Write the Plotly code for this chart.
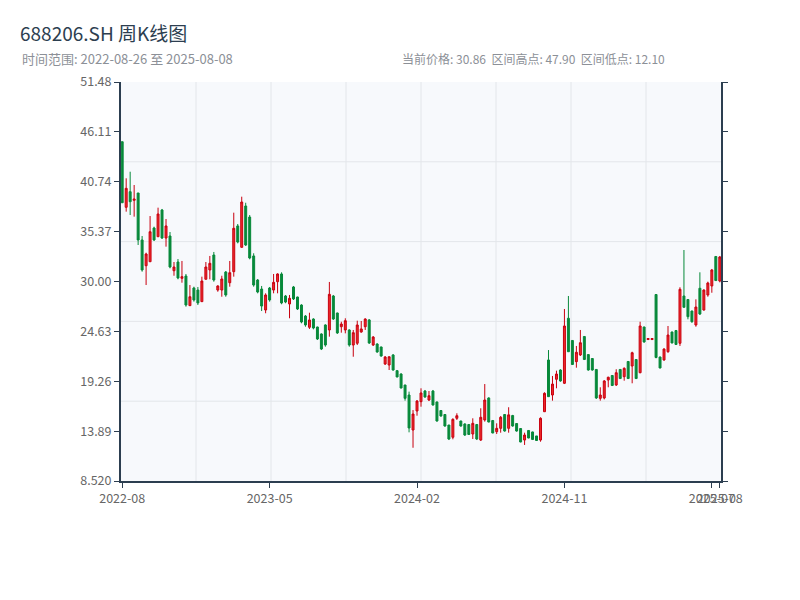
import pandas as pd
import plotly.graph_objects as go

# ---- data ----
first_week = "2022-08-26"
last_week = "2025-08-08"
closed_weeks = ["2022-10-07", "2023-01-27", "2023-10-06", "2024-02-16"]

opens = [45.05, 37.99, 39.67, 38.74, 39.53, 34.47, 31.70, 32.13, 35.76, 34.82,
         37.70, 34.68, 34.90, 31.16, 32.10, 30.34, 30.59, 27.40, 29.30, 29.08,
         27.83, 30.24, 31.24, 32.85, 29.08, 29.08, 31.02, 29.87, 31.06, 35.98,
         33.68, 38.13, 36.94, 32.75, 30.16, 29.19, 26.93, 29.30, 29.08, 29.98,
         30.81, 28.44, 27.58, 29.41, 28.33, 27.47, 26.28, 25.07, 25.96, 25.10,
         24.35, 25.32, 24.78, 28.44, 26.61, 25.13, 24.78, 24.78, 23.16, 23.35,
         24.56, 25.13, 25.86, 23.16, 23.27, 22.95, 21.12, 21.01, 22.09, 20.40,
         20.04, 18.86, 17.78, 14.01, 16.06, 17.06, 18.21, 17.24, 18.21, 17.03,
         16.11, 15.68, 14.55, 13.23, 15.27, 14.98, 14.66, 14.60, 13.58, 14.60,
         12.93, 15.09, 17.46, 15.03, 13.83, 14.19, 15.68, 14.19, 15.57, 14.71,
         14.17, 12.93, 13.96, 13.80, 13.37, 12.93, 15.98, 21.55, 17.78, 19.47,
         20.47, 19.04, 26.04, 23.65, 21.37, 22.09, 24.08, 22.13, 21.71, 20.53,
         17.42, 17.46, 19.39, 19.88, 18.86, 20.53, 19.75, 21.39, 20.90, 21.60,
         20.18, 25.10, 23.75, 23.75, 28.60, 21.87, 21.55, 22.44, 24.56, 24.72,
         23.35, 28.44, 28.06, 26.82, 25.32, 29.27, 26.93, 28.55, 29.52, 32.69,
         30.05]
highs = [45.05, 41.11, 41.82, 40.39, 39.53, 34.90, 33.10, 37.05, 35.90, 37.95,
         37.81, 36.73, 35.33, 32.10, 32.42, 32.21, 30.81, 29.62, 29.44, 29.41,
         30.52, 32.10, 32.75, 33.18, 29.59, 30.62, 31.13, 32.21, 37.41, 36.19,
         39.13, 38.48, 37.16, 33.04, 30.27, 29.52, 28.73, 29.41, 30.81, 30.88,
         30.99, 28.55, 28.55, 29.52, 28.36, 27.55, 26.39, 26.64, 26.04, 25.13,
         24.42, 25.39, 29.95, 28.55, 26.64, 25.67, 26.04, 24.85, 24.78, 25.78,
         25.75, 26.04, 25.96, 24.13, 23.35, 22.98, 21.98, 21.90, 22.19, 20.47,
         20.12, 18.86, 18.14, 16.16, 17.24, 18.50, 18.32, 18.21, 18.32, 17.06,
         16.16, 15.73, 14.55, 15.27, 15.81, 15.01, 14.73, 14.66, 15.27, 14.66,
         16.35, 18.96, 17.53, 15.09, 14.73, 15.52, 15.73, 16.46, 15.64, 14.73,
         14.19, 13.72, 14.01, 13.83, 13.37, 15.38, 18.07, 22.62, 19.83, 20.40,
         20.55, 27.04, 28.44, 23.70, 23.06, 24.78, 24.13, 22.19, 21.73, 20.55,
         18.61, 19.39, 19.75, 19.93, 20.55, 20.55, 20.76, 21.44, 22.44, 21.62,
         25.67, 25.13, 23.88, 23.88, 28.65, 21.90, 22.81, 25.21, 24.60, 24.78,
         29.38, 33.39, 28.08, 26.86, 28.08, 30.99, 29.16, 29.98, 31.35, 32.75,
         32.75]
lows = [38.48, 37.52, 37.16, 36.98, 33.93, 31.06, 29.62, 32.13, 34.36, 34.82,
        34.58, 33.75, 31.42, 30.62, 30.24, 29.87, 27.29, 27.40, 27.83, 27.47,
        27.83, 30.24, 30.24, 29.98, 28.90, 28.36, 28.36, 29.44, 30.52, 34.11,
        33.64, 33.82, 32.39, 29.44, 28.73, 26.82, 26.58, 27.83, 28.73, 28.73,
        27.55, 27.66, 26.04, 28.01, 26.93, 25.50, 25.13, 24.89, 24.85, 23.70,
        22.62, 22.98, 24.06, 25.86, 24.35, 24.49, 24.42, 22.98, 21.90, 23.16,
        24.49, 24.78, 23.27, 23.06, 22.33, 21.90, 21.01, 20.47, 20.40, 19.69,
        18.50, 17.17, 13.76, 12.10, 15.55, 16.52, 17.49, 17.13, 16.65, 14.91,
        15.44, 14.37, 12.93, 13.01, 15.09, 14.37, 13.37, 13.47, 13.04, 12.93,
        12.83, 14.91, 14.84, 13.66, 13.58, 13.72, 13.83, 13.72, 14.37, 13.83,
        12.69, 12.40, 13.12, 12.93, 12.86, 12.75, 15.98, 17.60, 17.17, 18.50,
        19.21, 18.96, 22.44, 21.01, 20.72, 21.98, 21.55, 20.40, 20.40, 17.35,
        17.17, 17.31, 18.61, 18.75, 18.75, 19.50, 19.32, 19.50, 19.04, 19.50,
        20.12, 23.41, 23.70, 23.70, 21.73, 20.65, 21.47, 22.33, 23.35, 23.16,
        23.06, 27.22, 25.93, 25.56, 25.13, 26.39, 26.86, 28.36, 28.79, 30.05,
        29.91]
closes = [38.48, 40.03, 38.59, 38.88, 34.47, 31.24, 32.96, 35.36, 34.47, 37.27,
          34.68, 35.98, 31.56, 31.56, 30.38, 30.52, 27.47, 28.36, 28.01, 27.69,
          30.05, 31.56, 31.96, 30.16, 29.52, 30.27, 28.55, 30.95, 35.73, 34.25,
          38.56, 33.93, 32.53, 29.62, 28.87, 27.36, 28.55, 28.01, 29.91, 30.81,
          27.69, 27.79, 28.19, 28.12, 27.04, 25.64, 25.32, 25.86, 24.99, 23.81,
          22.73, 23.16, 28.62, 25.96, 24.46, 25.42, 25.78, 23.16, 24.49, 25.32,
          24.89, 25.96, 23.38, 24.02, 22.41, 21.98, 21.87, 21.90, 20.47, 19.72,
          18.53, 17.42, 14.23, 15.73, 17.13, 18.00, 17.56, 17.70, 16.70, 14.98,
          15.52, 14.44, 13.04, 15.16, 15.55, 14.44, 13.47, 13.53, 14.73, 13.04,
          15.38, 17.24, 14.87, 13.69, 14.19, 15.38, 13.90, 15.64, 14.44, 13.90,
          12.72, 13.47, 13.15, 12.99, 12.88, 15.27, 17.96, 17.60, 18.96, 20.04,
          19.29, 25.21, 22.44, 21.06, 22.38, 23.41, 21.60, 20.47, 20.47, 17.46,
          17.78, 19.29, 19.69, 18.80, 20.18, 19.55, 20.65, 19.55, 22.33, 19.55,
          25.21, 23.49, 23.86, 23.86, 21.82, 20.69, 22.73, 24.24, 23.38, 23.22,
          29.16, 27.22, 26.21, 25.67, 27.25, 26.50, 29.08, 29.84, 31.24, 30.10,
          32.64]

y_tick_values = [8.52, 13.89, 19.26, 24.63, 30.00, 35.37, 40.74, 46.11, 51.48]
y_tick_labels = ["8.520", "13.89", "19.26", "24.63", "30.00", "35.37", "40.74", "46.11", "51.48"]
x_tick_positions = [0, 37, 74, 111, 148, 150]

title_text = "688206.SH 周K线图"
range_text = "时间范围: 2022-08-26 至 2025-08-08"
stats_text = "当前价格: 30.86\u00a0\u00a0区间高点: 47.90\u00a0\u00a0区间低点: 12.10"

# ---- build ----
closed = set(pd.to_datetime(closed_weeks))
weeks = [d for d in pd.date_range(first_week, last_week, freq="W-FRI") if d not in closed]
dates = [d.strftime("%Y-%m-%d") for d in weeks]
x_tick_vals = [dates[i] for i in x_tick_positions]
x_tick_text = [weeks[i].strftime("%Y-%m") for i in x_tick_positions]

FONT = "Noto Sans CJK SC"
AXIS = "#2c3e50"
GRID = "#e3e6ea"
PAGE_OFFSET = 8  # the page body margin shifts the figure by 8px

fig = go.Figure(go.Candlestick(
    x=dates, open=opens, high=highs, low=lows, close=closes,
    increasing=dict(line=dict(color="#c8000f", width=1), fillcolor="#ee2b2b"),
    decreasing=dict(line=dict(color="#07893a", width=1), fillcolor="#07893a"),
    whiskerwidth=0, hoverinfo="skip",
))

shapes = []
for i in range(1, 8):
    shapes.append(dict(type="line", xref="x domain", yref="y domain", x0=i / 8, x1=i / 8,
                       y0=0, y1=1, line=dict(color=GRID, width=1), layer="below"))
for j in range(1, 5):
    shapes.append(dict(type="line", xref="x domain", yref="y domain", x0=0, x1=1,
                       y0=j / 5, y1=j / 5, line=dict(color=GRID, width=1), layer="below"))

fig.update_layout(
    width=800, height=600,
    margin=dict(l=121 - PAGE_OFFSET, r=79 + PAGE_OFFSET, t=82 - PAGE_OFFSET, b=119 + PAGE_OFFSET),
    paper_bgcolor="white", plot_bgcolor="#f7f9fc",
    showlegend=False,
    font=dict(family=FONT, size=11, color="#666"),
    title=dict(text=title_text, x=(20 - PAGE_OFFSET) / 800, xanchor="left", xref="container",
               y=1 - (34 - PAGE_OFFSET) / 600, yanchor="middle", yref="container",
               font=dict(family=FONT, size=19, color="#2c3e50")),
    shapes=shapes,
    annotations=[
        dict(text=range_text, xref="paper", yref="paper", x=(20 - 121) / 600, y=1 + (82 - 58) / 399,
             xanchor="left", yanchor="middle", showarrow=False,
             font=dict(family=FONT, size=13, color="#8c9097")),
        dict(text=stats_text, xref="paper", yref="paper", x=(400 - 121) / 600, y=1 + (82 - 58) / 399,
             xanchor="left", yanchor="middle", showarrow=False,
             font=dict(family=FONT, size=12, color="#8c9097")),
    ],
)
fig.update_xaxes(
    type="category", range=[-0.3, 150.3], rangeslider=dict(visible=False),
    tickvals=x_tick_vals, ticktext=x_tick_text, tickangle=0,
    showgrid=False, zeroline=False,
    showline=True, linecolor=AXIS, linewidth=2,
    ticks="outside", ticklen=5, tickcolor=AXIS, tickwidth=1,
    tickfont=dict(family=FONT, size=12.5, color="#666"),
)
fig.update_yaxes(
    range=[8.52, 51.48], tickvals=y_tick_values, ticktext=y_tick_labels,
    showgrid=False, zeroline=False,
    showline=True, linecolor=AXIS, linewidth=2, mirror="ticks",
    ticks="outside", ticklen=5, tickcolor=AXIS, tickwidth=1,
    tickfont=dict(family=FONT, size=12.5, color="#666"),
)

fig.write_html("out.html")
